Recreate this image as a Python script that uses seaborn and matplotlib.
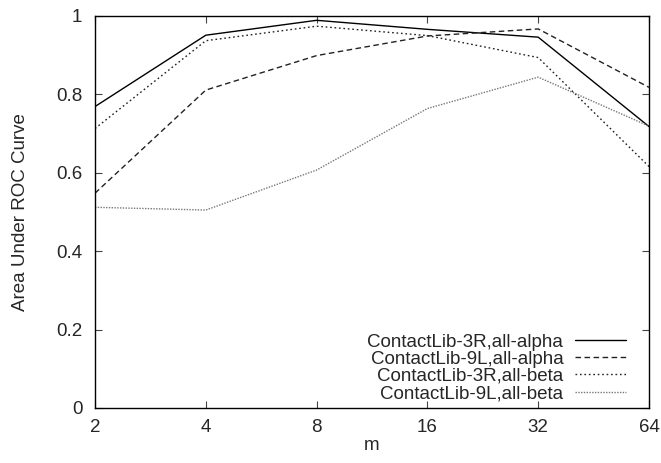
import matplotlib
matplotlib.use("Agg")
import matplotlib.pyplot as plt
import seaborn as sns
import pandas as pd

m_values = [2, 4, 8, 16, 32, 64]
series_names = ["ContactLib-3R,all-alpha", "ContactLib-9L,all-alpha",
                "ContactLib-3R,all-beta", "ContactLib-9L,all-beta"]
auc_3r_alpha = [0.769, 0.951, 0.989, 0.966, 0.946, 0.718]
auc_9l_alpha = [0.548, 0.811, 0.899, 0.949, 0.967, 0.818]
auc_3r_beta = [0.713, 0.937, 0.974, 0.950, 0.894, 0.616]
auc_9l_beta = [0.512, 0.505, 0.607, 0.764, 0.844, 0.719]
y_ticks = [0, 0.2, 0.4, 0.6, 0.8, 1]
y_ticklabels = ["0", "0.2", "0.4", "0.6", "0.8", "1"]

sns.set_style("ticks")
plt.rcParams['font.family'] = ['Liberation Sans', 'DejaVu Sans']
FS = 13.5
plt.rcParams['font.size'] = FS

rows = []
for name, vals in zip(series_names, [auc_3r_alpha, auc_9l_alpha, auc_3r_beta, auc_9l_beta]):
    for m, v in zip(m_values, vals):
        rows.append({"m": m, "auc": v, "series": name})
df = pd.DataFrame(rows)

fig = plt.figure(figsize=(6.61, 4.63), dpi=100)
ax = fig.add_axes([95/661, 1-408/463, (649-95)/661, (408-16)/463])

styles = {
    series_names[0]: dict(color="black", ls="-", lw=1.0),
    series_names[1]: dict(color="#222222", ls=(0, (4, 2.5)), lw=1.0),
    series_names[2]: dict(color="#222222", ls=(0, (1.2, 2)), lw=1.0),
    series_names[3]: dict(color="#777777", ls=(0, (1, 1)), lw=1.0),
}
for name in series_names:
    sub = df[df["series"] == name]
    sns.lineplot(data=sub, x="m", y="auc", ax=ax, label=name, **styles[name])

ax.set_xscale("log", base=2)
ax.set_xlim(2, 64)
ax.set_ylim(0, 1)
ax.set_xticks(m_values)
ax.set_xticklabels([str(m) for m in m_values])
ax.minorticks_off()
ax.set_yticks(y_ticks)
ax.set_yticklabels(y_ticklabels)
ax.tick_params(direction="in", top=True, right=True, length=5, width=0.8,
               labelsize=FS, color="#444444")
ax.tick_params(axis="y", pad=9)
ax.tick_params(axis="x", pad=8)
for s in ax.spines.values():
    s.set_linewidth(1.0)
    s.set_color("black")
ax.set_xlabel("m", fontsize=FS, labelpad=1)
ax.set_ylabel("Area Under ROC Curve", fontsize=FS)
ax.yaxis.set_label_coords((29 - 95) / 554, 0.5)

leg = ax.legend(loc="lower right", markerfirst=False, frameon=False,
                handlelength=2.7, handletextpad=0.64, labelspacing=0.0,
                borderaxespad=0.0, borderpad=0.0, fontsize=FS,
                bbox_to_anchor=((626 - 95) / 554, 0.015))
for t in leg.get_texts():
    t.set_ha("right")

fig.savefig("out.png", dpi=100)
